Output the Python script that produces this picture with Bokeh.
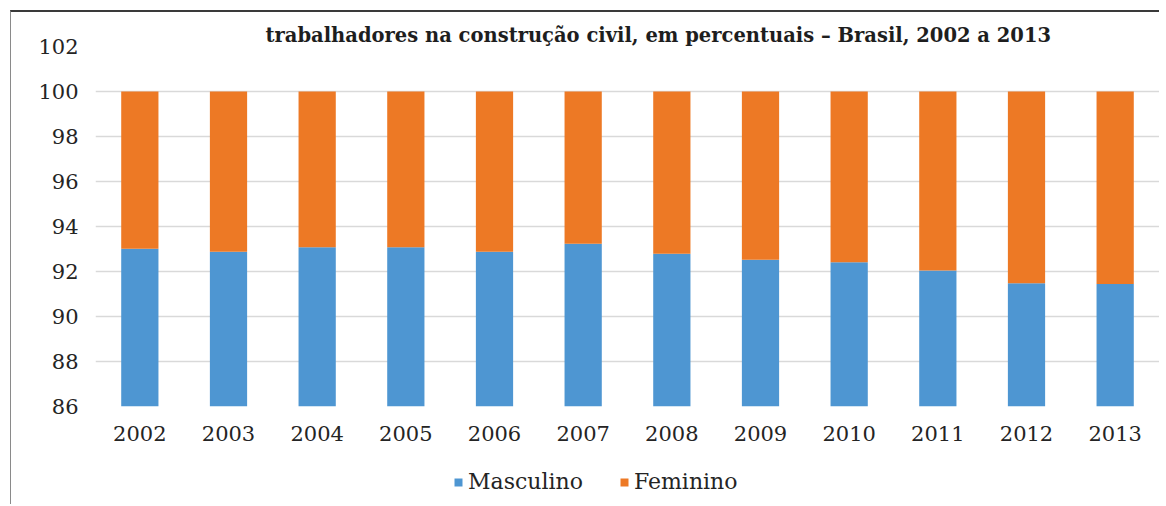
from bokeh.plotting import figure
from bokeh.models import Legend, Title, FixedTicker, Range1d
from bokeh.layouts import column
from bokeh.embed import file_html
from bokeh.resources import INLINE

years = ["2002", "2003", "2004", "2005", "2006", "2007", "2008", "2009", "2010", "2011", "2012", "2013"]
masculino = [93.01, 92.88, 93.08, 93.08, 92.88, 93.23, 92.79, 92.52, 92.41, 92.04, 91.48, 91.45]
feminino = [6.99, 7.12, 6.92, 6.92, 7.12, 6.77, 7.21, 7.48, 7.59, 7.96, 8.52, 8.55]
y_ticks = [86, 88, 90, 92, 94, 96, 98, 100, 102]
series_names = ["Masculino", "Feminino"]
title_text = "trabalhadores na construção civil, em percentuais – Brasil, 2002 a 2013"

FONT = "DejaVu Serif"
BLUE = "#4E96D2"
ORANGE = "#ED7925"
TXT = "#242424"

data = {"year": years, "Masculino": masculino, "Feminino": feminino}

p = figure(x_range=years, y_range=Range1d(86, 102), width=1148, height=442,
           output_backend="svg", toolbar_location=None,
           min_border_left=84, min_border_right=0, min_border_top=34, min_border_bottom=48)

rs = p.vbar_stack(series_names, x="year", width=0.42, source=data,
                  color=[BLUE, ORANGE], line_color=None)

p.title = Title(text=title_text, align="left", offset=170, text_font=FONT, standoff=0,
                text_font_size="19.5px", text_font_style="bold", text_color="#1e1e1e")

p.outline_line_color = None
p.background_fill_color = "white"
p.border_fill_color = "white"

p.xgrid.grid_line_color = None
p.ygrid.grid_line_color = "#d9d9d9"
p.ygrid.grid_line_width = 1.5
p.yaxis.ticker = FixedTicker(ticks=y_ticks)

for ax in (p.xaxis[0], p.yaxis[0]):
    ax.axis_line_color = None
    ax.major_tick_line_color = None
    ax.minor_tick_line_color = None
    ax.major_label_text_font = FONT
    ax.major_label_text_font_size = "21px"
    ax.major_label_text_color = TXT
p.xaxis.major_label_standoff = 13
p.yaxis.major_label_standoff = 11

# legend row: a second small figure holding only the legend.
# Its y-range lies far above the data, so its bars stay out of view and only
# the legend (which takes its colours from these renderers) is seen.
p2 = figure(x_range=years, y_range=Range1d(1000, 1001), width=1148, height=50,
            output_backend="svg", toolbar_location=None,
            min_border_left=0, min_border_right=0, min_border_top=0, min_border_bottom=0)
p2.axis.visible = False
p2.grid.grid_line_color = None
p2.outline_line_color = None
rs2 = p2.vbar_stack(series_names, x="year", width=0.42, source=data,
                    color=[BLUE, ORANGE], line_color=None)
legend = Legend(items=[(series_names[0], [rs2[0]]), (series_names[1], [rs2[1]])],
                orientation="horizontal", location=(358, 10),
                label_text_font=FONT, label_text_font_size="22px", label_text_color=TXT,
                glyph_width=10, glyph_height=10, spacing=36, label_standoff=5,
                border_line_color=None, background_fill_alpha=0, margin=0, padding=0)
p2.add_layout(legend)

layout = column(p, p2, spacing=0, margin=(10, 0, 0, 10),
                styles={"border-top": "2px solid #3a3a3a", "border-left": "1px solid #8a8a8a"})

open("out.html", "w").write(file_html(layout, INLINE))
